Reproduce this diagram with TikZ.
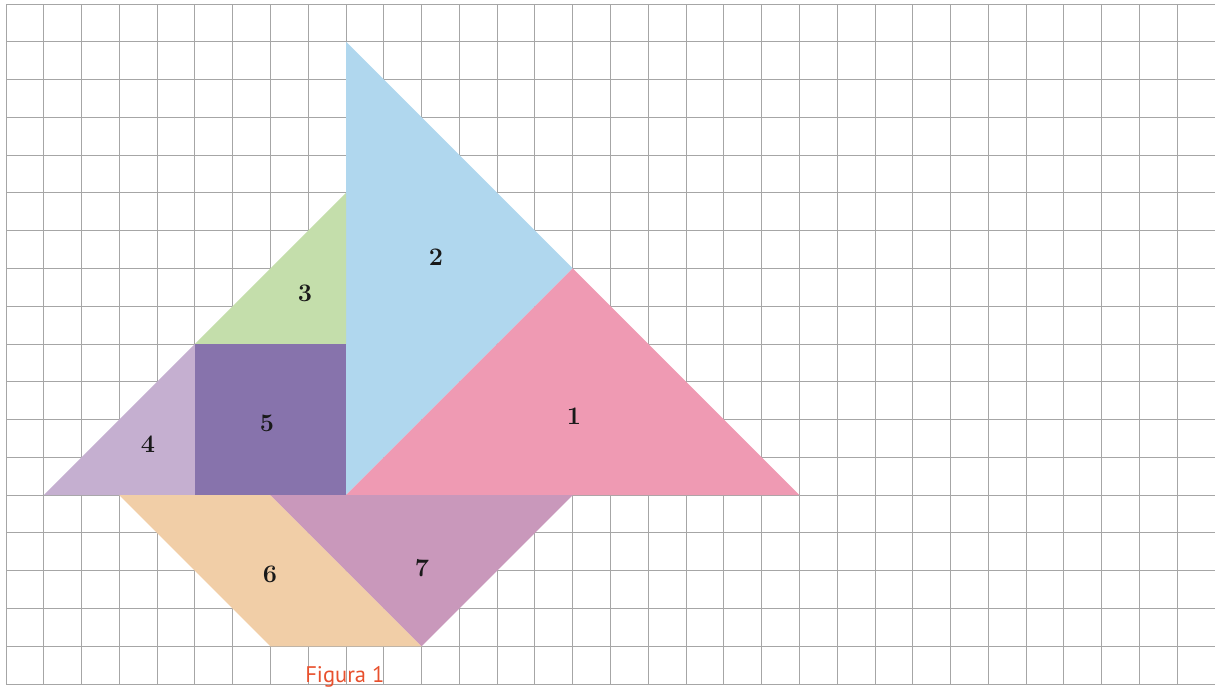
\documentclass[tikz,border=0pt]{standalone}
\usepackage{fontspec}
\newfontfamily\captionfont{PT Sans}
\definecolor{sailblue}{RGB}{176,215,238}
\definecolor{sailpink}{RGB}{239,154,179}
\definecolor{sailgreen}{RGB}{196,222,171}
\definecolor{squarepurple}{RGB}{135,115,172}
\definecolor{lilac}{RGB}{197,175,208}
\definecolor{peach}{RGB}{241,206,167}
\definecolor{mauve}{RGB}{201,152,187}
\definecolor{captionred}{RGB}{232,80,45}
\begin{document}
\begin{tikzpicture}[x=1cm,y=1cm,
    piece/.style={draw=none},
    num/.style={font=\fontsize{19}{19}\selectfont\bfseries,text=black!90}]
  \useasboundingbox (-0.159,-0.052) rectangle (32.0,18.106);
  \draw[gray!70,line width=0.7pt,step=1] (0,0) grid (32,18);
  % sail and hull pieces
  \fill[sailblue,piece] (9,17) -- (15,11) -- (9,5) -- cycle;
  \fill[sailpink,piece] (9,5) -- (15,11) -- (21,5) -- cycle;
  \fill[sailgreen,piece] (9,13) -- (5,9) -- (9,9) -- cycle;
  \fill[squarepurple,piece] (5,5) rectangle (9,9);
  \fill[lilac,piece] (5,9) -- (1,5) -- (5,5) -- cycle;
  \fill[peach,piece] (3,5) -- (7,5) -- (11,1) -- (7,1) -- cycle;
  \fill[mauve,piece] (7,5) -- (15,5) -- (11,1) -- cycle;
  % labels
  \node[num] (n1) at (15.03,7.1) {1};
  \node[num] (n2) at (11.38,11.31) {2};
  \node[num] (n3) at (7.91,10.33) {3};
  \node[num] (n4) at (3.76,6.36) {4};
  \node[num] (n5) at (6.91,6.89) {5};
  \node[num] (n6) at (6.99,2.9) {6};
  \node[num] (n7) at (11.01,3.08) {7};
  \node[font=\captionfont\fontsize{17}{17}\selectfont,text=captionred,anchor=north,inner sep=0pt] (caption) at (8.97,0.48) {Figura 1};
\end{tikzpicture}
\end{document}
